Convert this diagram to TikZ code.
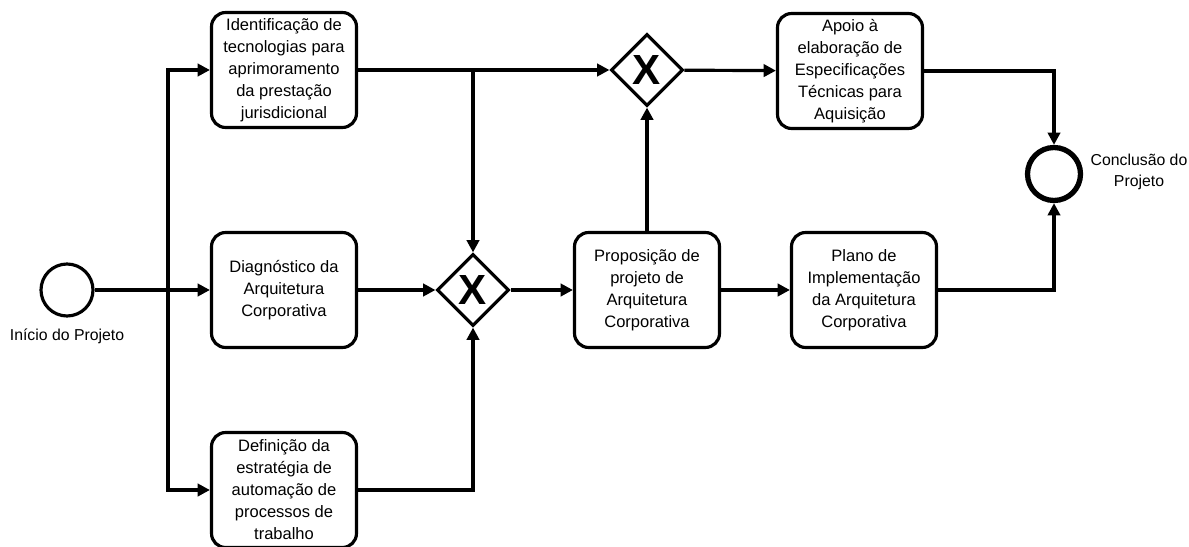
\documentclass[tikz,border=0pt]{standalone}
\usepackage{fontspec}
\setmainfont{Liberation Sans}
\usetikzlibrary{shapes.geometric,arrows.meta}

\tikzset{
    task/.style={draw, line width=1.8pt, rounded corners=8pt, minimum width=2.9cm,
        minimum height=2.3cm, align=center, inner sep=2pt,
        font=\fontsize{9.4}{12.5}\selectfont},
    gateway/.style={draw, diamond, line width=1.8pt, minimum width=1.44cm,
        minimum height=1.44cm, inner sep=0pt, font=\fontsize{24}{24}\selectfont\bfseries},
    startevent/.style={draw, circle, line width=1.8pt, minimum size=1.04cm, inner sep=0pt},
    endevent/.style={draw, circle, line width=3pt, minimum size=1.06cm, inner sep=0pt},
    flow/.style={line width=1.8pt, -{Triangle[length=7pt,width=7pt]}},
    evlabel/.style={align=center, font=\fontsize{9}{11.5}\selectfont}
}

\begin{document}
\begin{tikzpicture}[x=0.02cm, y=-0.02cm]
    \useasboundingbox (0, 0) rectangle (1189, 547);

    % Events
    \node[startevent] (start) at (67, 290) {};
    \node[evlabel] (startlbl) at (67, 336) {Início do Projeto};
    \node[endevent] (end) at (1054, 174) {};
    \node[evlabel] (endlbl) at (1139, 172) {Conclusão do\\Projeto};

    % Tasks
    \node[task] (ident) at (284, 70) {Identificação de\\tecnologias para\\aprimoramento\\da prestação\\jurisdicional};
    \node[task] (diag) at (284, 290) {Diagnóstico da\\Arquitetura\\Corporativa};
    \node[task] (defin) at (284, 490) {Definição da\\estratégia de\\automação de\\processos de\\trabalho};
    \node[task] (prop) at (647, 290) {Proposição de\\projeto de\\Arquitetura\\Corporativa};
    \node[task] (apoio) at (850, 71) {Apoio à\\elaboração de\\Especificações\\Técnicas para\\Aquisição};
    \node[task] (plano) at (864, 290) {Plano de\\Implementação\\da Arquitetura\\Corporativa};

    % Gateways
    \node[gateway] (gwa) at (473, 290) {X};
    \node[gateway] (gwb) at (647, 70) {X};

    % Split after the start event
    \coordinate (split) at (168, 290);
    \draw[flow] (start) -- (diag);
    \draw[flow] (split) |- (ident);
    \draw[flow] (split) |- (defin);

    % Flows into the gateways
    \draw[flow] (ident.east) -- (gwb.west);
    \draw[flow] (ident.east -| gwa) -- (gwa.north);
    \draw[flow] (diag) -- (gwa);
    \draw[flow] (defin.east) -| (gwa.south);
    \draw[flow] (gwa) -- (prop);
    \draw[flow] (prop) -- (gwb);

    % Flows to the end
    \draw[flow] (gwb) -- (apoio);
    \draw[flow] (prop) -- (plano);
    \draw[flow] (apoio.east) -| (end.north);
    \draw[flow] (plano.east) -| (end.south);

\end{tikzpicture}
\end{document}
